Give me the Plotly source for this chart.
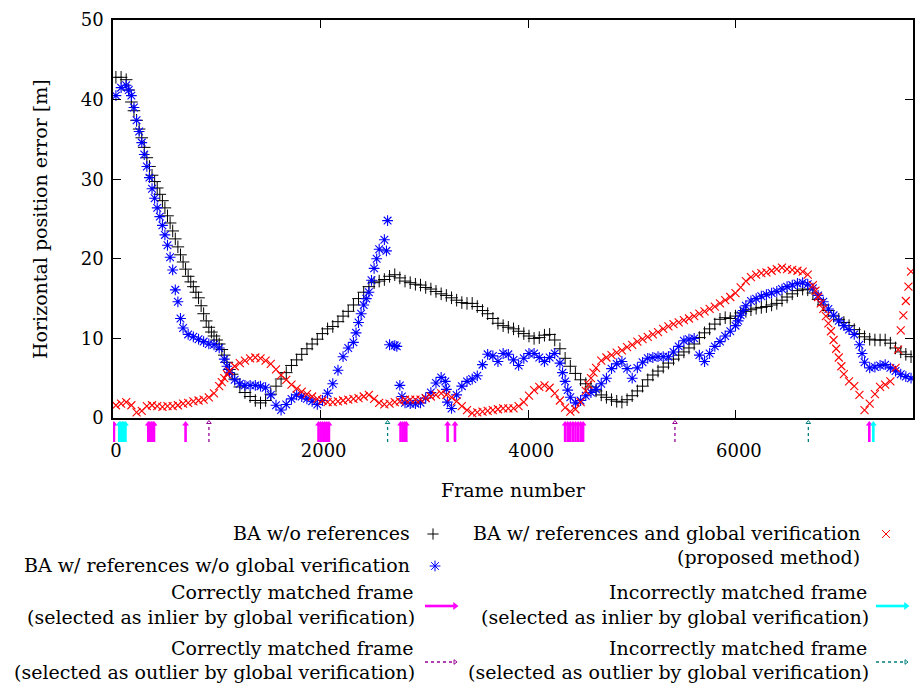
import numpy as np
import plotly.graph_objects as go

# ---------------- data ----------------
# frame numbers at which the error curves were sampled
FRAMES = np.linspace(28, 7687, 155).round().tolist()

BA_NO_REF = [
    42.8, 42.8, 42.5, 39.7, 37.4, 35.2, 32.7, 30.5, 28.9, 27.3,
    25.4, 23.5, 21.5, 19.6, 17.8, 16.5, 15.1, 13.1, 11.4, 10.3,
    9.3, 7.9, 6.1, 4.9, 3.9, 3.2, 2.7, 2.2, 1.9, 2.2,
    3.0, 4.0, 4.9, 5.7, 6.6, 7.3, 8.0, 8.7, 9.3, 9.9,
    10.6, 11.2, 11.5, 12.1, 12.8, 13.4, 14.2, 15.0, 15.8, 16.5,
    17.0, 17.2, 17.4, 17.8, 18.0, 17.6, 17.2, 17.0, 16.8, 16.7,
    16.4, 16.2, 15.9, 15.6, 15.4, 15.1, 14.8, 14.5, 14.4, 14.4,
    14.0, 13.5, 13.1, 12.5, 11.9, 11.6, 11.4, 11.2, 10.9, 10.6,
    10.3, 10.0, 10.1, 10.4, 10.5, 9.8, 8.7, 7.5, 6.5, 5.6,
    4.8, 4.3, 3.9, 3.4, 2.9, 2.6, 2.3, 2.1, 2.0, 2.3,
    2.8, 3.4, 4.0, 4.8, 5.4, 5.9, 6.4, 6.9, 7.4, 7.9,
    8.3, 8.8, 9.3, 10.1, 10.7, 11.2, 11.8, 12.4, 12.6, 12.5,
    12.8, 13.2, 13.4, 13.6, 13.8, 13.9, 14.0, 14.2, 14.4, 14.8,
    15.2, 15.6, 16.0, 16.2, 16.1, 15.7, 14.9, 14.2, 13.5, 12.8,
    12.4, 12.0, 11.6, 11.1, 10.6, 10.2, 9.9, 9.8, 9.8, 9.8,
    9.4, 8.8, 8.3, 8.0, 7.7,
]
# additional samples read on the steep part of the curve
BLACK_EXTRA_FRAMES = [152, 202, 252, 301, 351, 401, 451, 500, 550, 600, 650,
                      699, 749, 799, 849, 898, 948, 998, 1048, 1097, 1147]
BLACK_EXTRA_ERR = [41.2, 38.6, 36.3, 34.0, 31.6, 29.7, 28.1, 26.4, 24.5, 22.5, 20.5,
                   18.7, 17.1, 15.8, 14.1, 12.2, 10.8, 9.8, 8.6, 7.0, 5.5]

BA_REF_NO_GV = [
    40.5, 41.5, 41.8, 40.5, 37.4, 34.6, 31.6, 28.8, 26.4, 24.2,
    21.7, 18.6, 14.6, 11.3, 10.5, 10.2, 9.9, 9.6, 9.3, 9.2,
    8.8, 7.4, 5.7, 4.8, 4.3, 4.1, 4.1, 4.1, 4.0, 3.8,
    2.9, 1.6, 1.0, 1.7, 2.4, 2.9, 2.7, 2.4, 2.1, 1.7,
    2.2, 3.1, 4.3, 6.0, 7.7, 8.8, 9.5, 12.0, 14.2, 15.8,
    18.8, 21.2, 22.4, 9.2, 9.1, 4.1, 1.9, 1.8, 1.8, 1.9,
    2.5, 3.2, 4.4, 5.1, 3.6, 1.2, 2.9, 4.0, 4.6, 4.9,
    5.3, 6.7, 8.0, 7.8, 7.1, 8.1, 8.0, 7.3, 6.6, 7.5,
    8.1, 8.1, 7.6, 7.1, 7.6, 8.1, 6.9, 4.6, 2.6, 1.9,
    2.2, 2.8, 3.2, 3.6, 4.3, 5.0, 6.2, 6.8, 7.1, 6.2,
    5.0, 6.3, 7.0, 7.5, 7.6, 7.7, 7.7, 7.7, 8.3, 9.0,
    9.7, 9.9, 10.0, 7.9, 7.1, 8.1, 9.0, 9.6, 10.3, 10.9,
    11.6, 12.9, 14.1, 14.7, 15.0, 15.3, 15.5, 15.7, 15.9, 16.2,
    16.5, 16.7, 16.9, 17.0, 16.8, 16.3, 15.4, 14.6, 13.7, 12.9,
    12.2, 11.6, 11.1, 10.5, 9.2, 7.0, 6.3, 6.4, 6.6, 6.7,
    6.3, 5.9, 5.5, 5.2, 5.0,
]
# isolated / steep-part samples of the same series
BLUE_EXTRA_FRAMES = [152, 202, 252, 301, 351, 401, 451, 500, 550, 600, 650, 1097,
                     2341, 2390, 2440, 2490, 2540, 2634, 2645, 2734, 2783,
                     3201, 3221, 4330, 4380, 6022, 6071, 7215]
BLUE_EXTRA_ERR = [41.2, 39.0, 36.0, 33.1, 30.2, 27.6, 25.3, 23.0, 20.2, 16.1, 12.5, 6.5,
                  10.7, 13.1, 15.0, 17.3, 20.0, 21.0, 24.8, 9.0, 2.7,
                  4.6, 2.0, 5.7, 3.5, 12.2, 13.5, 8.1]

BA_REF_GV = [
    1.6, 1.8, 2.0, 1.6, 0.7, 0.9, 1.5, 1.6, 1.5, 1.4,
    1.5, 1.5, 1.6, 1.8, 1.9, 2.1, 2.2, 2.3, 2.6, 3.1,
    4.0, 5.0, 5.9, 6.5, 6.9, 7.2, 7.5, 7.6, 7.5, 7.2,
    6.8, 6.1, 5.4, 4.8, 4.2, 3.7, 3.3, 3.0, 2.7, 2.4,
    2.2, 2.0, 2.0, 2.1, 2.2, 2.3, 2.4, 2.5, 2.7, 2.9,
    2.4, 1.9, 1.7, 1.8, 2.0, 2.1, 2.3, 2.3, 2.3, 2.3,
    2.5, 2.7, 2.9, 3.1, 2.9, 2.6, 2.1, 1.5, 1.0, 0.6,
    0.7, 0.8, 0.9, 1.0, 1.1, 1.2, 1.2, 1.2, 1.5, 2.0,
    2.8, 3.5, 3.9, 4.1, 3.8, 3.1, 2.2, 1.3, 0.8, 1.1,
    2.0, 3.4, 5.0, 6.3, 7.2, 7.6, 7.9, 8.2, 8.5, 8.9,
    9.2, 9.6, 9.9, 10.2, 10.5, 10.8, 11.2, 11.5, 11.8, 12.0,
    12.3, 12.5, 12.8, 13.1, 13.4, 13.7, 14.0, 14.4, 14.8, 15.2,
    15.7, 16.4, 17.2, 17.7, 18.0, 18.2, 18.3, 18.5, 18.7, 18.9,
    18.7, 18.6, 18.5, 18.4, 18.0, 16.7, 15.2, 13.7, 11.9, 9.8,
    7.6, 5.5, 4.6, 4.0, 2.9, 1.0, 1.8, 3.0, 3.9, 4.2,
    4.6, 6.3, 11.0, 14.7, 18.4,
]
RED_EXTRA_FRAMES = [1048, 1097, 4579, 4628, 6767, 6817, 6867, 6916, 6966, 7016,
                    7563, 7613, 7662]
RED_EXTRA_ERR = [4.5, 5.5, 4.2, 5.7, 16.0, 14.4, 12.8, 10.9, 8.7, 6.5,
                 8.6, 12.9, 16.5]

# matched frames shown as arrows under the axis
CORRECT_INLIER = [9, 340, 355, 370, 385, 395, 699, 1980, 2000, 2020, 2040, 2060, 2080,
                  2770, 2790, 2810, 2825, 3223, 3294,
                  4355, 4380, 4405, 4430, 4455, 4480, 4505, 4528, 7285]
INCORRECT_INLIER = [60, 75, 90, 105, 120, 7324]
CORRECT_OUTLIER = [924, 5413]
INCORRECT_OUTLIER = [2645, 6698]

X_TICKS = [0, 2000, 4000, 6000]
Y_TICKS = [0, 10, 20, 30, 40, 50]

SERIES_NAMES = ["BA w/o references",
                "BA w/ references w/o global verification",
                "BA w/ references and global verification"]

# ---------------- layout helpers ----------------
W, H = 915, 683
FONT = "DejaVu Serif"
FS = 19
TICK_FS = 18
MAGENTA, CYAN, PURPLE, TEAL = "#ff00ff", "#00ffff", "#990099", "#008080"


def px(x):
    return x / W


def py(y):
    return 1 - y / H


fig = go.Figure()

# error curves
fig.add_trace(go.Scatter(x=FRAMES + BLACK_EXTRA_FRAMES, y=BA_NO_REF + BLACK_EXTRA_ERR,
                         mode="markers", name=SERIES_NAMES[0],
                         marker=dict(symbol="cross-thin", size=9, color="black",
                                     line=dict(color="black", width=1))))
fig.add_trace(go.Scatter(x=FRAMES + BLUE_EXTRA_FRAMES, y=BA_REF_NO_GV + BLUE_EXTRA_ERR,
                         mode="markers", name=SERIES_NAMES[1],
                         marker=dict(symbol="asterisk", size=9, color="#0000ff",
                                     line=dict(color="#0000ff", width=1.1))))
fig.add_trace(go.Scatter(x=FRAMES + RED_EXTRA_FRAMES, y=BA_REF_GV + RED_EXTRA_ERR,
                         mode="markers", name=SERIES_NAMES[2],
                         marker=dict(symbol="x-thin", size=8, color="#ff0000",
                                     line=dict(color="#ff0000", width=1.1))))


def arrows(frames, color, dotted):
    xs, ys = [], []
    top = 18.5 if dotted else 17
    for f in frames:
        xs += [f, f, None]
        ys += [0, top, None]
    fig.add_trace(go.Scatter(x=xs, y=ys, mode="lines", xaxis="x", yaxis="y2",
                             line=dict(color=color, width=1.3 if dotted else 2.6,
                                       dash="dot" if dotted else "solid"),
                             hoverinfo="skip"))
    fig.add_trace(go.Scatter(x=frames, y=[19.5 if dotted else 18] * len(frames),
                             mode="markers", xaxis="x", yaxis="y2",
                             marker=dict(symbol="triangle-up-open" if dotted else "triangle-up",
                                         size=4 if dotted else 6, color=color,
                                         line=dict(color=color, width=1 if dotted else 0)),
                             hoverinfo="skip"))


arrows(CORRECT_INLIER, MAGENTA, False)
arrows(INCORRECT_INLIER, CYAN, False)
arrows(CORRECT_OUTLIER, PURPLE, True)
arrows(INCORRECT_OUTLIER, TEAL, True)

# ---------------- legend samples (drawn on a pixel-space overlay axis) ----------------
fig.add_trace(go.Scatter(x=[433], y=[534], mode="markers", xaxis="x3", yaxis="y3",
                         marker=dict(symbol="cross-thin", size=8, color="black",
                                     line=dict(color="black", width=1))))
fig.add_trace(go.Scatter(x=[435], y=[566], mode="markers", xaxis="x3", yaxis="y3",
                         marker=dict(symbol="asterisk", size=9, color="#0000ff",
                                     line=dict(color="#0000ff", width=1))))
fig.add_trace(go.Scatter(x=[886], y=[534], mode="markers", xaxis="x3", yaxis="y3",
                         marker=dict(symbol="x-thin", size=8, color="#ff0000",
                                     line=dict(color="#ff0000", width=1))))


def legend_arrow(x0, x1, y, color, dotted):
    fig.add_trace(go.Scatter(x=[x0, x1 - 3], y=[y, y], mode="lines", xaxis="x3", yaxis="y3",
                             line=dict(color=color, width=1.3 if dotted else 2.6,
                                       dash="dot" if dotted else "solid")))
    fig.add_trace(go.Scatter(x=[x1 - 2], y=[y], mode="markers", xaxis="x3", yaxis="y3",
                             marker=dict(symbol="triangle-right-open" if dotted else "triangle-right",
                                         size=4 if dotted else 7, color=color,
                                         line=dict(color=color, width=1 if dotted else 0))))


legend_arrow(425, 457, 606, MAGENTA, False)
legend_arrow(876, 908, 606, CYAN, False)
legend_arrow(425, 457, 662, PURPLE, True)
legend_arrow(876, 908, 662, TEAL, True)

legend_texts = [
    (SERIES_NAMES[0], 412, 533),
    (SERIES_NAMES[1], 412, 565),
    ("Correctly matched frame", 416, 592),
    ("(selected as inlier by global verification)", 417, 617),
    ("Correctly matched frame", 416, 648),
    ("(selected as outlier by global verification)", 417, 672),
    (SERIES_NAMES[2], 863, 533),
    ("(proposed method)", 862, 557),
    ("Incorrectly matched frame", 869, 592),
    ("(selected as inlier by global verification)", 871, 617),
    ("Incorrectly matched frame", 869, 648),
    ("(selected as outlier by global verification)", 871, 672),
]
annotations = []
for text, x, y in legend_texts:
    annotations.append(dict(text=text, x=px(x), y=py(y), xref="paper", yref="paper",
                            xanchor="right", yanchor="middle", showarrow=False,
                            font=dict(family=FONT, size=FS, color="black")))
annotations.append(dict(text="Frame number", x=px(513), y=py(490), xref="paper", yref="paper",
                        xanchor="center", yanchor="middle", showarrow=False,
                        font=dict(family=FONT, size=FS, color="black")))
annotations.append(dict(text="Horizontal position error [m]", x=px(40), y=py(219),
                        xref="paper", yref="paper", textangle=-90,
                        xanchor="center", yanchor="middle", showarrow=False,
                        font=dict(family=FONT, size=FS, color="black")))

axis_common = dict(showline=True, linecolor="black", linewidth=1.5, mirror="ticks",
                   ticks="inside", ticklen=8, tickwidth=1, tickcolor="black",
                   showgrid=False, zeroline=False, automargin=False,
                   tickfont=dict(family=FONT, size=TICK_FS, color="black"))

fig.update_layout(
    width=W, height=H,
    margin=dict(l=0, r=0, t=0, b=0),
    paper_bgcolor="white", plot_bgcolor="rgba(0,0,0,0)",
    showlegend=False,
    font=dict(family=FONT, size=FS, color="black"),
    xaxis=dict(domain=[px(113), px(913)], range=[0, 7706], anchor="y",
               tickvals=X_TICKS, ticklabelstandoff=16, ticklabelshift=3, **axis_common),
    yaxis=dict(domain=[py(418), py(20)], range=[0, 50], anchor="x",
               tickvals=Y_TICKS, ticklabelstandoff=4, **axis_common),
    yaxis2=dict(domain=[py(442), py(419)], range=[0, 23], anchor="x", visible=False),
    xaxis3=dict(domain=[0, 1], range=[0, W], anchor="y3", visible=False),
    yaxis3=dict(domain=[0, 1], range=[H, 0], anchor="x3", visible=False),
    annotations=annotations,
)

fig.write_html("out.html", config={"displayModeBar": False},
               post_script="document.body.style.margin='0px';")
